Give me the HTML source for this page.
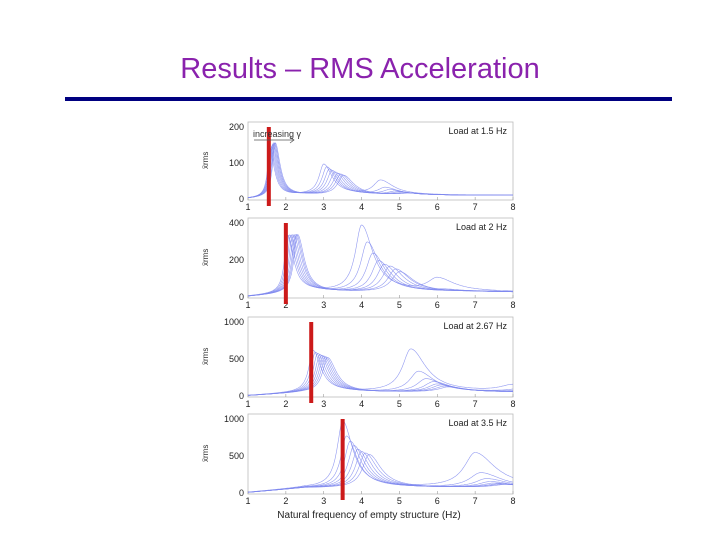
<!DOCTYPE html>
<html><head><meta charset="utf-8"><style>
body{margin:0;background:#fff;}
svg{display:block;font-family:"Liberation Sans",sans-serif;}
</style></head><body>
<svg id="c" width="720" height="540" viewBox="0 0 720 540">
<text x="360" y="78" text-anchor="middle" font-size="29" fill="#8a22ad">Results – RMS Acceleration</text>
<rect x="65" y="97" width="607" height="4" fill="#000080"/>
<g id="plots"></g>
<text x="369" y="518" text-anchor="middle" font-size="10" fill="#222">Natural frequency of empty structure (Hz)</text>
</svg>
<script>
// Panel metadata
const panelLabels = ["Load at 1.5 Hz","Load at 2 Hz","Load at 2.67 Hz","Load at 3.5 Hz"];
const yMax = [200,400,1000,1000];
const yTicks = [[0,100,200],[0,200,400],[0,500,1000],[0,500,1000]];
const xTicks = [1,2,3,4,5,6,7,8];
const loadFreq = [1.55,2.0,2.67,3.5];
const baseLevel = [10,25,50,70];
// Peaks per panel: first resonance group (8 curves)
const g1Freq = [[1.58,1.6,1.62,1.64,1.66,1.68,1.7,1.72],[2.05,2.09,2.13,2.17,2.21,2.25,2.28,2.31],[2.72,2.78,2.84,2.9,2.95,3.0,3.05,3.1],[3.5,3.6,3.7,3.8,3.9,4.0,4.1,4.2]];
const g1Amp = [[130,135,140,145,148,150,150,150],[310,315,315,315,315,315,315,315],[560,540,525,510,500,490,480,470],[900,700,630,570,520,490,470,450]];
// second resonance group
const g2Freq = [[3.0,3.08,3.15,3.22,3.3,3.38,3.45,3.52],[4.0,4.15,4.3,4.45,4.6,4.75,4.9,5.0],[5.3,5.5,5.7,5.9,6.0,6.1,6.2,6.3],[7.0,7.15,7.3,7.4,7.5,7.6,7.7,7.8]];
const g2Amp = [[85,78,72,68,64,60,58,55],[360,270,210,170,150,140,125,110],[580,280,180,140,110,95,80,70],[470,200,120,80,60,50,45,40]];
// third resonance group
const g3Freq = [[4.5,4.62,4.75,4.9,5.0,5.1,5.2,5.3],[6.0,6.2,6.4,6.6,6.8,7.0,7.2,7.4],[8.0,8.2,8.4,8.6,8.8,9,9.2,9.4],[9,9,9,9,9,9,9,9]];
const g3Amp = [[40,20,14,10,8,6,5,5],[70,10,6,5,4,4,3,3],[90,40,30,20,15,10,8,6],[0,0,0,0,0,0,0,0]];

const NS="http://www.w3.org/2000/svg";
const X0=248,X1=513;
const tops=[122,218,317,414], bots=[200,298,397,494];
const root=document.getElementById('plots');
function mk(t,a,p){const e=document.createElementNS(NS,t);for(const k in a)e.setAttribute(k,a[k]);(p||root).appendChild(e);return e;}
function xs(f){return X0+(f-1)/7*(X1-X0);}
for(let p=0;p<4;p++){
  const top=tops[p],bot=bots[p];
  const ys=v=>bot-1-Math.min(v,yMax[p])/yMax[p]*(bot-1-(top+5));
  const g=mk('g',{});
  
  
  const fr=mk('rect',{x:X0,y:top,width:X1-X0,height:bot-top,fill:'#fff',stroke:'#bbb','stroke-width':0.8},g);
  
  
  xTicks.forEach(t=>{
    const tx=mk('text',{x:xs(t),y:bot+10,'text-anchor':'middle','font-size':9,fill:'#222'},g);
    tx.textContent=t;
    
    
    mk('line',{x1:xs(t),x2:xs(t),y1:bot,y2:bot-3,stroke:'#999','stroke-width':0.6},g);
  });
  yTicks[p].forEach(t=>{
    const tx=mk('text',{x:X0-4,y:ys(t)+3,'text-anchor':'end','font-size':9,fill:'#222'},g);
    tx.textContent=t;
    
    
  });
  const yl=mk('text',{x:0,y:0,'font-size':8,fill:'#333',transform:`translate(208,${(top+bot)/2+8}) rotate(-90)`},g);
  yl.textContent='ẍrms';
  
  
  const lb=mk('text',{x:X1-6,y:top+12,'text-anchor':'end','font-size':9,fill:'#222'},g);
  lb.textContent=panelLabels[p];
  
  
  for(let c=0;c<8;c++){
    let d='';
    for(let i=0;i<=350;i++){
      const f=1+7*i/350;
      const ramp=Math.min(1,(f-1)/1.5);
      let v=baseLevel[p]*(0.1+0.9*ramp);
      const pk=[[g1Freq[p][c],g1Amp[p][c]],[g2Freq[p][c],g2Amp[p][c]],[g3Freq[p][c],g3Amp[p][c]]];
      pk.forEach(([f0,h])=>{const w=(f<f0?0.05:0.09)*f0;v+=h/(1+Math.pow((f-f0)/w,2));});
      d+=(i?'L':'M')+xs(f).toFixed(1)+','+ys(v).toFixed(1);
    }
    const pa=mk('path',{d:d,fill:'none',stroke:'#7f88ee','stroke-width':0.6,opacity:0.85},g);
    
    
  }
  const rb=mk('rect',{x:xs(loadFreq[p])-2,y:top+5,width:4,height:bot-top+1,fill:'#cc1a1a'},g);
  
  
  if(p===0){
    const it=mk('text',{x:253,y:137,'font-size':9,fill:'#333'},g);
    it.textContent='increasing γ';
    
    
    const ar=mk('path',{d:'M254,140 L294,140 M290,137 L294,140 L290,143',stroke:'#555','stroke-width':0.7,fill:'none'},g);
    
    
  }
}
</script>
</body></html>
